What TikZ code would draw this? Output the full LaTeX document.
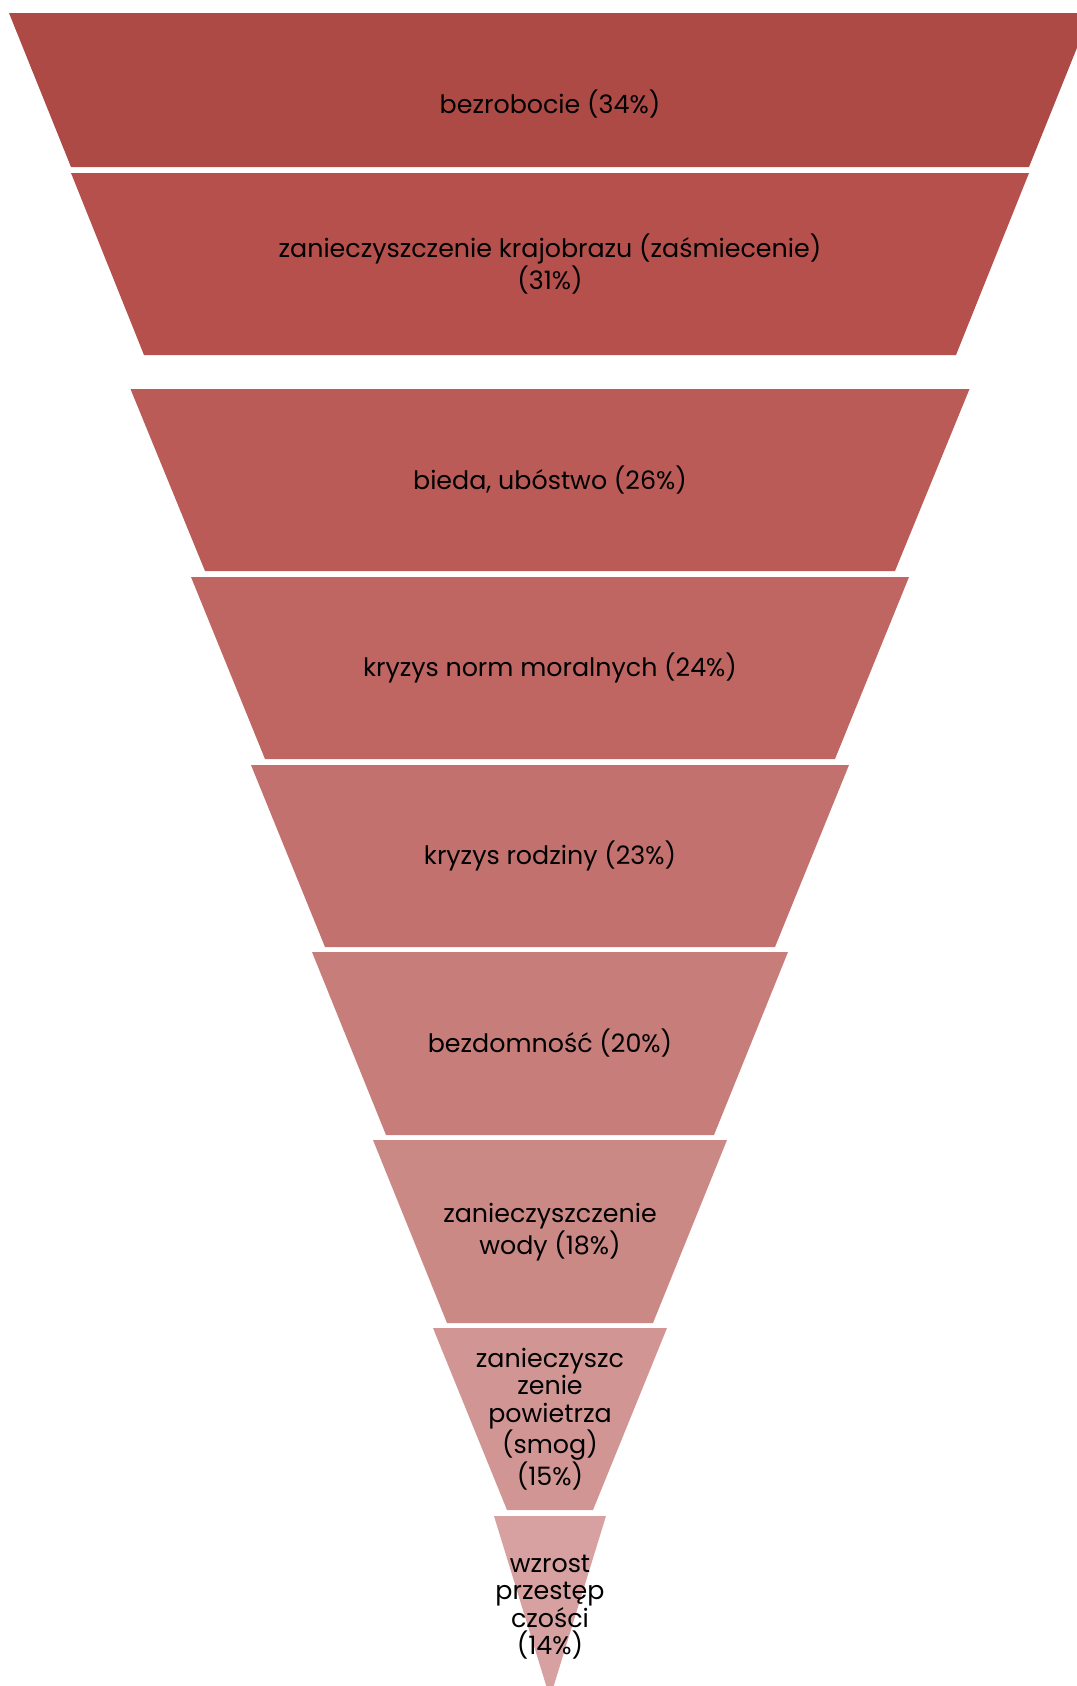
\documentclass[tikz,border=0pt]{standalone}
\usepackage{fontspec}
\setmainfont{Poppins}
\usepackage{tikz}

\definecolor{lvlA}{RGB}{173,74,70}
\definecolor{lvlB}{RGB}{182,80,77}
\definecolor{lvlC}{RGB}{186,91,87}
\definecolor{lvlD}{RGB}{191,102,99}
\definecolor{lvlE}{RGB}{195,113,110}
\definecolor{lvlF}{RGB}{199,125,122}
\definecolor{lvlG}{RGB}{203,137,134}
\definecolor{lvlH}{RGB}{209,149,147}
\definecolor{lvlI}{RGB}{214,161,160}

\tikzset{
  band/.style={fill=#1, draw=none},
  answer/.style={align=center, text=black,
    font=\fontsize{19}{20.6}\selectfont}
}

\begin{document}
\begin{tikzpicture}[x=0.75pt, y=-0.75pt]
	\useasboundingbox (0,0) rectangle (1077,1686);
	\clip (0,0) rectangle (1077,1686);
	% funnel bands: top, bottom, half width at top, half width at bottom, colour
	\foreach \t/\b/\wt/\wb/\c in {13/167/541/479/lvlA, 173/355/479/406/lvlB,
			389/571/419.5/345/lvlC, 577/759/359/285/lvlD, 765/947/299/225/lvlE,
			952/1135/238/164/lvlF, 1140/1323/177/103/lvlG, 1328/1510/117/43/lvlH,
			1516/1698/56/0/lvlI}
		\fill [band=\c] (550-\wt,\t) -- (550+\wt,\t) -- (550+\wb,\b) -- (550-\wb,\b) -- cycle;
	% labels
	\node (bezrobocie) [answer] at (550,104) {bezrobocie (34\%)};
	\node (krajobraz) [answer] at (550,264) {zanieczyszczenie krajobrazu (zaśmiecenie)\\(31\%)};
	\node (bieda) [answer] at (550,480) {bieda, ubóstwo (26\%)};
	\node (normy) [answer] at (550,668) {kryzys norm moralnych (24\%)};
	\node (rodzina) [answer] at (550,856) {kryzys rodziny (23\%)};
	\node (bezdomnosc) [answer] at (550,1043) {bezdomność (20\%)};
	\node (woda) [answer] at (550,1232) {zanieczyszczenie\\wody (18\%)};
	\node (powietrze) [answer] at (550,1419) {zanieczyszc\\zenie\\powietrza\\(smog)\\(15\%)};
	\node (przestepczosc) [answer] at (550,1607) {wzrost\\przestęp\\czości\\(14\%)};
\end{tikzpicture}
\end{document}
